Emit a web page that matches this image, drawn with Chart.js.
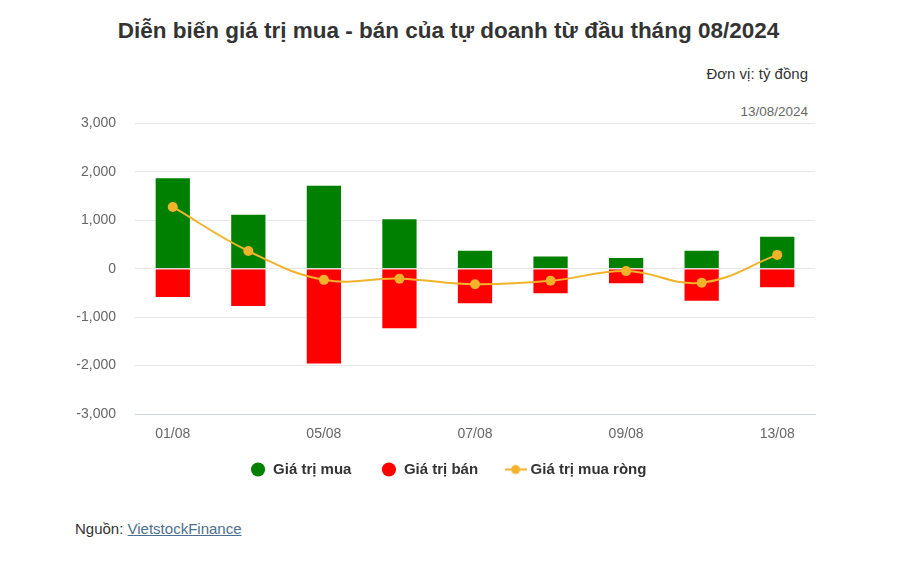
<!DOCTYPE html>
<html>
<head>
<meta charset="utf-8">
<script src="https://cdn.jsdelivr.net/npm/chart.js@4.4.1/dist/chart.umd.min.js"></script>
<style>
    body { margin: 0; background: #fff; font-family: "Liberation Sans", Arial, sans-serif; }
    #wrap { position: relative; width: 897px; height: 566px; overflow: hidden; }
    #title { position: absolute; top: 18px; left: 0; width: 897px; text-align: center;
             font-size: 22.5px; font-weight: bold; color: #333; }
    #unit { position: absolute; top: 65px; right: 89px; font-size: 15px; color: #333; }
    #date { position: absolute; top: 104px; right: 89px; font-size: 13.5px; color: #666; }
    #source { position: absolute; top: 520px; left: 75px; font-size: 15px; color: #333; }
    #source a { color: #4b6f8e; text-decoration: underline; }
    #box { position: absolute; left: 60px; top: 96px; width: 770px; height: 403px; }
</style>
</head>
<body>
<div id="wrap">
    <div id="title">Diễn biến giá trị mua - bán của tự doanh từ đầu tháng 08/2024</div>
    <div id="unit">Đơn vị: tỷ đồng</div>
    <div id="date">13/08/2024</div>
    <div id="box"><canvas id="myChart"></canvas></div>
    <div id="source">Nguồn: <a href="#">VietstockFinance</a></div>
</div>
<script>
"use strict";

// data (tỷ đồng)
const day_labels = ['01/08', '02/08', '05/08', '06/08', '07/08', '08/08', '09/08', '12/08', '13/08'];
const buy_values = [1890, 1135, 1735, 1040, 390, 270, 240, 390, 680];
const sell_values = [-605, -790, -1980, -1250, -735, -530, -320, -680, -405];
const net_values = [1275, 365, -230, -205, -320, -250, -50, -290, 285];
const y_ticks = [-3000, -2000, -1000, 0, 1000, 2000, 3000];

const LINE_COLOR = '#f2b22a';

// nudge the legend a bit right and up, like the original page
const legendShift = {
    id: 'legendShift',
    afterLayout(chart) {
        const lg = chart.legend;
        lg.left += 11;
        lg.right += 11;
        lg.top -= 12;
        lg.bottom -= 12;
    }
};

renderChart();

/**
 * Small icon for the line series in the legend
 * @returns {HTMLCanvasElement}
 */
function lineLegendIcon() {
    const c = document.createElement('canvas');
    c.width = 22;
    c.height = 12;
    const ctx = c.getContext('2d');
    ctx.strokeStyle = LINE_COLOR;
    ctx.lineWidth = 2;
    ctx.beginPath();
    ctx.moveTo(0, 6);
    ctx.lineTo(22, 6);
    ctx.stroke();
    ctx.fillStyle = LINE_COLOR;
    ctx.beginPath();
    ctx.arc(11, 6, 4.5, 0, Math.PI * 2);
    ctx.fill();
    return c;
}

function renderChart() {
    const ctx = document.getElementById('myChart');
    const icon = lineLegendIcon();

    new Chart(ctx, {
        type: 'bar',
        data: {
            labels: day_labels,
            datasets: [{
                label: 'Giá trị mua',
                data: buy_values,
                backgroundColor: '#008000',
                borderColor: '#ffffff',
                borderWidth: 1,
                stack: 's',
                order: 2
            }, {
                label: 'Giá trị bán',
                data: sell_values,
                backgroundColor: '#ff0000',
                borderColor: '#ffffff',
                borderWidth: 1,
                stack: 's',
                order: 2
            }, {
                type: 'line',
                label: 'Giá trị mua ròng',
                data: net_values,
                borderColor: LINE_COLOR,
                backgroundColor: LINE_COLOR,
                borderWidth: 2,
                pointRadius: 5,
                pointBorderWidth: 0,
                tension: 0.4,
                order: 0
            }]
        },
        plugins: [legendShift],
        options: {
            responsive: true,
            maintainAspectRatio: false,
            animation: false,
            locale: 'en-US',
            layout: { padding: { top: 0, right: 15, bottom: 0, left: 0 } },
            datasets: {
                bar: { barPercentage: 0.48, categoryPercentage: 1 }
            },
            scales: {
                x: {
                    stacked: true,
                    grid: { display: false, drawTicks: false },
                    border: { display: true, color: '#ccd6eb', width: 1 },
                    ticks: {
                        autoSkip: false,
                        maxRotation: 0,
                        padding: 12,
                        color: '#666',
                        font: { family: '"Liberation Sans", Arial', size: 14 },
                        callback: function (val, i) {
                            return i % 2 === 0 ? day_labels[i] : '';
                        }
                    },
                    afterFit: function (scale) { scale.height = 30; }
                },
                y: {
                    stacked: true,
                    min: y_ticks[0],
                    max: y_ticks[y_ticks.length - 1],
                    afterBuildTicks: function (scale) {
                        scale.ticks = y_ticks.map(v => ({ value: v }));
                    },
                    grid: { color: '#e6e6e6', drawTicks: false },
                    border: { display: false },
                    ticks: {
                        padding: 19,
                        color: '#666',
                        font: { family: '"Liberation Sans", Arial', size: 14 }
                    },
                    afterFit: function (scale) { scale.width = 75; }
                }
            },
            plugins: {
                tooltip: { enabled: false },
                legend: {
                    position: 'bottom',
                    labels: {
                        usePointStyle: true,
                        pointStyle: 'circle',
                        boxWidth: 15,
                        boxHeight: 10,
                        padding: 30,
                        color: '#333',
                        font: { family: '"Liberation Sans", Arial', size: 15, weight: 'bold' },
                        generateLabels: function (chart) {
                            const items = Chart.defaults.plugins.legend.labels.generateLabels(chart);
                            items.sort((a, b) => a.datasetIndex - b.datasetIndex);
                            items.forEach(it => {
                                if (it.datasetIndex === 2) {
                                    it.pointStyle = icon;
                                } else {
                                    it.pointStyle = 'circle';
                                    it.lineWidth = 0;
                                }
                            });
                            return items;
                        }
                    }
                }
            }
        }
    });
}
</script>
</body>
</html>
